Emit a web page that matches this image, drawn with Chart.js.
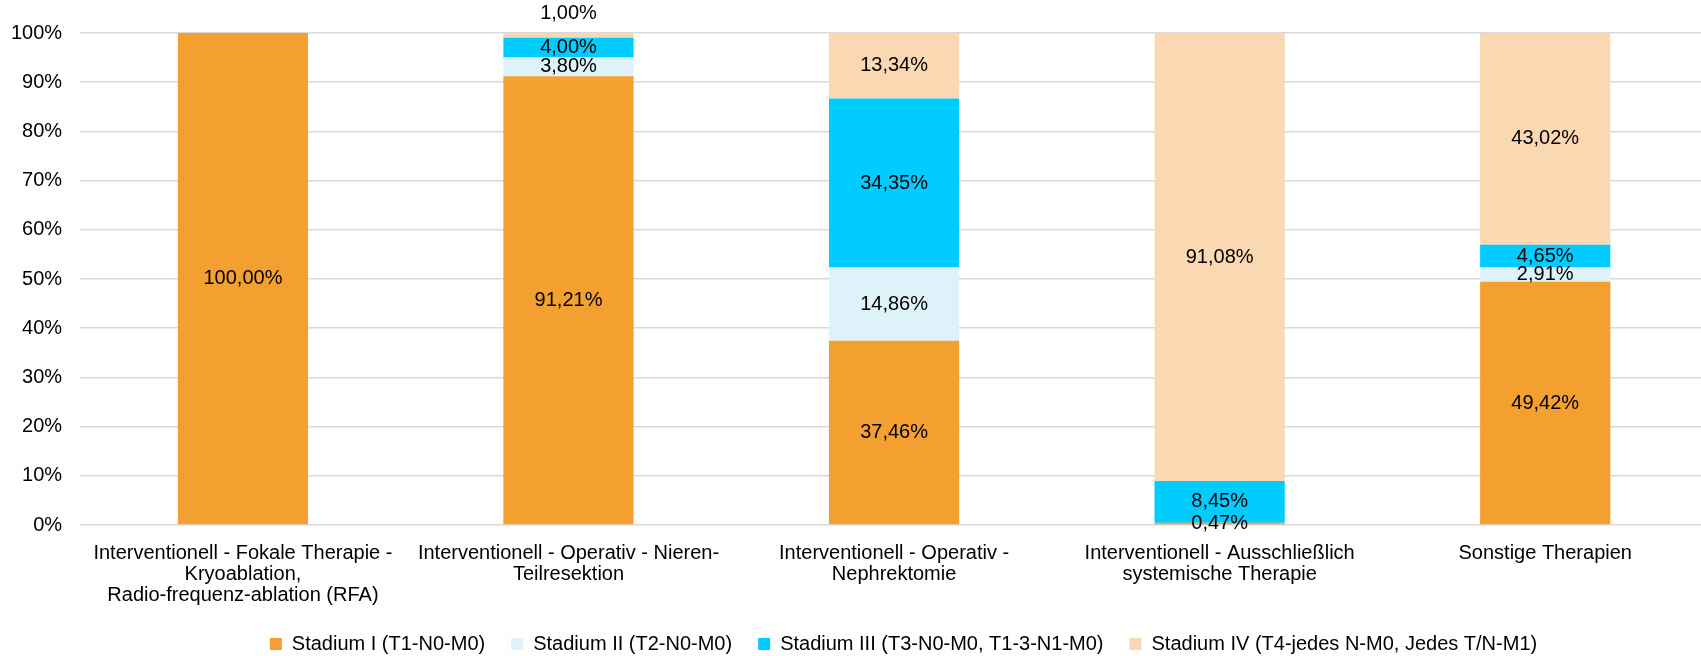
<!DOCTYPE html>
<html lang="de">
<head>
    <meta charset="UTF-8">
    <title>Stadienverteilung nach Therapie</title>
    <script src="https://cdn.jsdelivr.net/npm/chart.js"></script>
    <style>
        html, body { margin: 0; padding: 0; background: #fff; overflow: hidden; }
        .wrap { width: 1708px; height: 656px; position: relative; }
    </style>
</head>
<body>
    <div class="wrap"><canvas id="stageChart"></canvas></div>

    <script>
        const categories = [
            ['Interventionell - Fokale Therapie -', 'Kryoablation,', 'Radio-frequenz-ablation (RFA)'],
            ['Interventionell - Operativ - Nieren-', 'Teilresektion'],
            ['Interventionell - Operativ -', 'Nephrektomie'],
            ['Interventionell - Ausschließlich', 'systemische Therapie'],
            ['Sonstige Therapien']
        ];
        const seriesNames = [
            'Stadium I (T1-N0-M0)',
            'Stadium II (T2-N0-M0)',
            'Stadium III (T3-N0-M0, T1-3-N1-M0)',
            'Stadium IV (T4-jedes N-M0, Jedes T/N-M1)'
        ];
        const stage1 = [100.00, 91.21, 37.46, 0.47, 49.42];
        const stage2 = [null, 3.80, 14.86, null, 2.91];
        const stage3 = [null, 4.00, 34.35, 8.45, 4.65];
        const stage4 = [null, 1.00, 13.34, 91.08, 43.02];
        const yTicks = [0, 10, 20, 30, 40, 50, 60, 70, 80, 90, 100];
        const colors = ['#F4A030', '#DEF2FA', '#00CCFF', '#FAD8B1'];

        const fontFamily = '"Liberation Sans", Arial, sans-serif';

        // value labels in the middle of each segment
        const segmentLabels = {
            id: 'segmentLabels',
            afterDatasetsDraw(chart) {
                const ctx = chart.ctx;
                ctx.save();
                ctx.font = '20px ' + fontFamily;
                ctx.fillStyle = '#000';
                ctx.textAlign = 'center';
                ctx.textBaseline = 'middle';
                const last = chart.data.datasets.length - 1;
                chart.data.datasets.forEach((ds, di) => {
                    const meta = chart.getDatasetMeta(di);
                    meta.data.forEach((bar, i) => {
                        const v = ds.data[i];
                        if (v === null || v === undefined) return;
                        const txt = v.toFixed(2).replace('.', ',') + '%';
                        let y = (bar.y + bar.base) / 2;
                        // thin top segment: label goes above the bar
                        if (di === last && Math.abs(bar.base - bar.y) < 10) {
                            y = bar.y - 19;
                        }
                        ctx.fillText(txt, bar.x, y);
                    });
                });
                ctx.restore();
            }
        };

        // legend sits a bit right of centre in the original
        const legendShift = {
            id: 'legendShift',
            afterLayout(chart) {
                const lg = chart.legend;
                if (!lg) return;
                lg.left += 53; lg.right += 53;
                lg.top += 2; lg.bottom += 2;
            }
        };

        const ctx = document.getElementById('stageChart').getContext('2d');
        new Chart(ctx, {
            type: 'bar',
            data: {
                labels: categories,
                datasets: [stage1, stage2, stage3, stage4].map((d, i) => ({
                    label: seriesNames[i],
                    data: d,
                    backgroundColor: colors[i],
                    borderWidth: 0,
                    categoryPercentage: 1.0,
                    barPercentage: 0.4
                }))
            },
            options: {
                responsive: true,
                maintainAspectRatio: false,
                animation: false,
                layout: {
                    padding: { left: -7, right: 0, top: 33, bottom: -6 }
                },
                scales: {
                    x: {
                        stacked: true,
                        grid: { display: false },
                        border: { display: false },
                        afterFit(scale) {
                            scale.paddingLeft = 0;
                            scale.paddingRight = 0;
                            scale.height = 81;
                        },
                        ticks: {
                            color: '#000',
                            padding: 10,
                            maxRotation: 0,
                            autoSkip: false,
                            font: { family: fontFamily, size: 20, lineHeight: 1.05 }
                        }
                    },
                    y: {
                        stacked: true,
                        min: 0,
                        max: 100,
                        afterBuildTicks(axis) {
                            axis.ticks = yTicks.map(v => ({ value: v }));
                        },
                        grid: { color: '#D9D9D9', lineWidth: 1.5, drawTicks: false },
                        border: { display: false },
                        ticks: {
                            color: '#000',
                            padding: 18,
                            font: { family: fontFamily, size: 20 },
                            callback: v => v + '%'
                        }
                    }
                },
                plugins: {
                    legend: {
                        position: 'bottom',
                        labels: {
                            color: '#000',
                            boxWidth: 12,
                            boxHeight: 12,
                            padding: 26,
                            font: { family: fontFamily, size: 20 }
                        }
                    },
                    tooltip: { enabled: false }
                }
            },
            plugins: [segmentLabels, legendShift]
        });
    </script>
</body>
</html>
